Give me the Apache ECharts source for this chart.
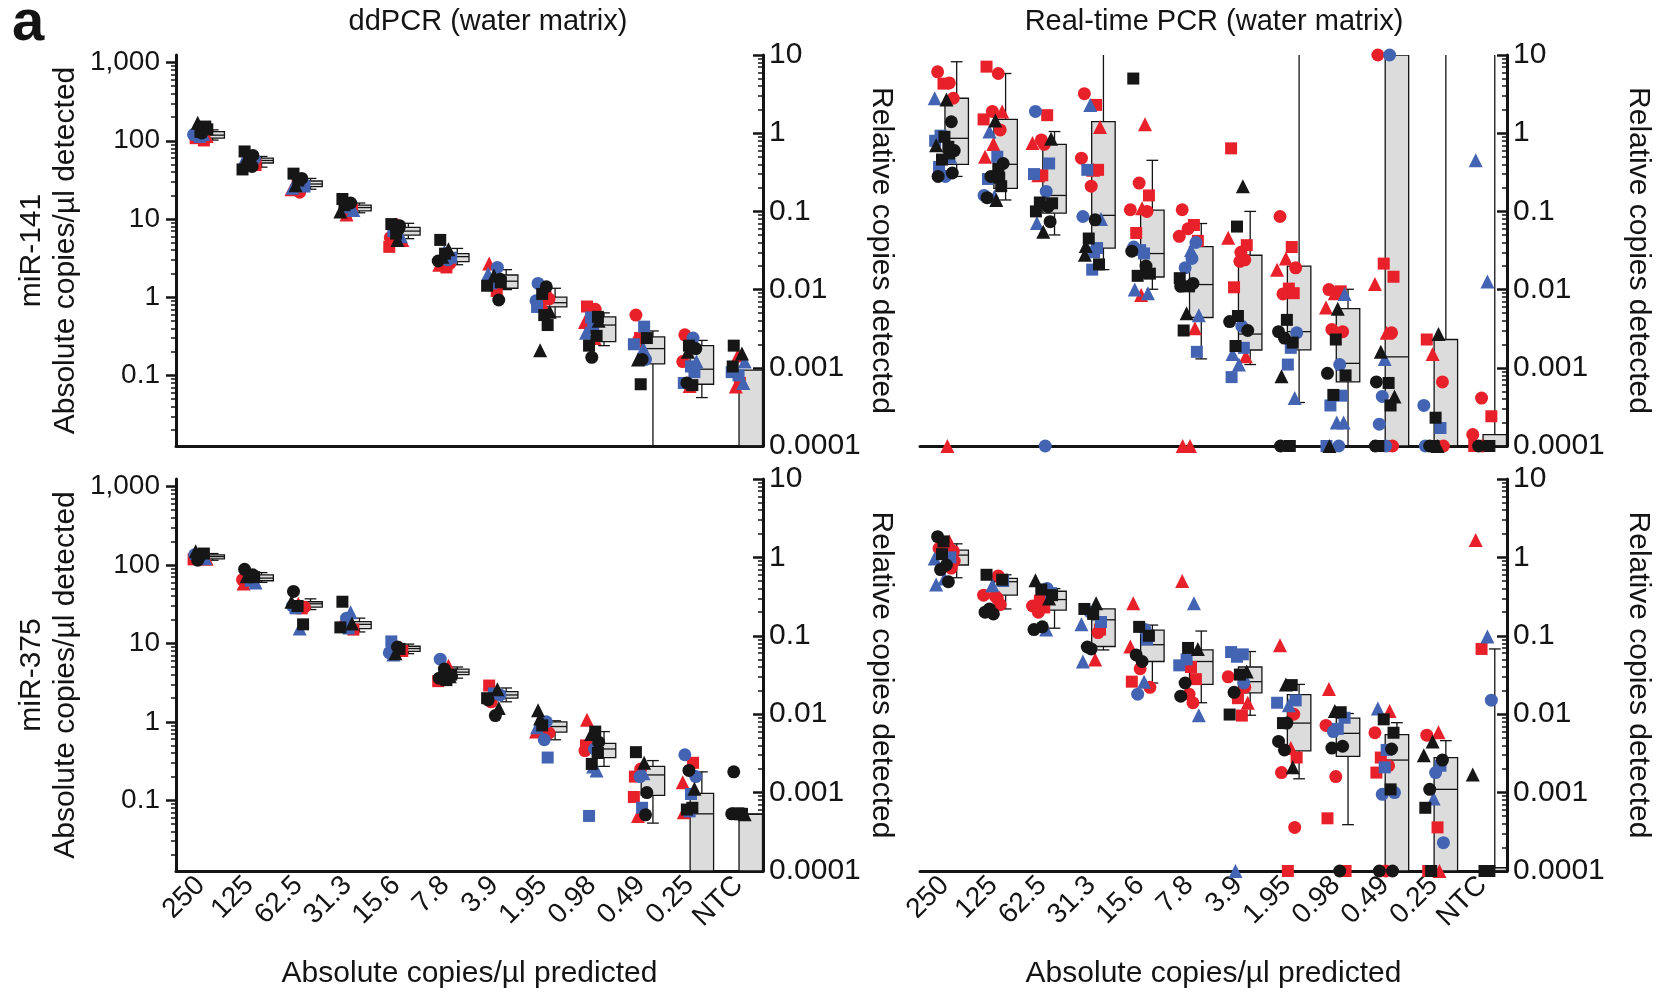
<!DOCTYPE html>
<html>
<head>
<meta charset="utf-8">
<title>ddPCR vs real-time PCR</title>
<script src="https://cdn.jsdelivr.net/npm/echarts@6/dist/echarts.min.js"></script>
<style>
  html, body { margin: 0; padding: 0; background: #fff; }
  #chart { width: 1657px; height: 997px; }
</style>
</head>
<body>
<div id="chart"></div>
<script>
// predicted input (copies/µl) per column
const categories = ['250', '125', '62.5', '31.3', '15.6', '7.8', '3.9', '1.95', '0.98', '0.49', '0.25', 'NTC'];

// not detected -> drawn on the floor of the axis
const ND = 0.0001;     // relative scale
const ND_ABS = 0.0125; // absolute scale

// points: [replicate group, value]; group = colour (r/b/k) + shape (c/s/t)
// ddPCR miR-141, absolute copies/µl
const dd141 = [
  [['rs', 108], ['rs', 101], ['bs', 112], ['rt', 115], ['bc', 120], ['kc', 126], ['ks', 152], ['kt', 170], ['ks', 130], ['rc', 118], ['bt', 122], ['ks', 140]],
  [['ks', 73], ['kc', 65], ['bs', 54], ['rs', 49], ['ks', 43], ['rc', 52], ['bc', 58], ['kt', 60], ['rt', 50], ['bt', 55], ['kc', 47]],
  [['ks', 38], ['kc', 33], ['rs', 28], ['bs', 26], ['rt', 24], ['rc', 22], ['bc', 29], ['kt', 27], ['ks', 31], ['bt', 25]],
  [['ks', 18], ['kc', 16], ['rt', 11.4], ['bt', 13], ['kt', 12.5], ['bs', 14], ['rs', 13], ['ks', 15], ['rc', 12]],
  [['ks', 8.6], ['kc', 8.2], ['rc', 8.5], ['rt', 5.4], ['rs', 4.4], ['kt', 5.4], ['bt', 6], ['bs', 7], ['ks', 6.5], ['rc', 5.8], ['kc', 7.5]],
  [['ks', 5.4], ['kt', 4.1], ['bt', 3.8], ['bs', 3.2], ['kc', 2.9], ['rs', 2.4], ['rc', 2.7], ['kt', 3.3], ['ks', 3.6], ['rt', 2.6], ['bc', 3.0]],
  [['rt', 2.7], ['bc', 2.4], ['rs', 1.65], ['kc', 1.7], ['ks', 1.4], ['rc', 1.35], ['kc', 0.92], ['bs', 1.5], ['kt', 1.9], ['bt', 2.0], ['rs', 1.2], ['ks', 1.55]],
  [['bc', 1.5], ['kc', 1.36], ['ks', 1.1], ['rc', 0.95], ['bc', 0.9], ['ks', 0.59], ['ks', 0.44], ['kt', 0.21], ['rt', 0.8], ['bs', 0.75], ['rs', 1.0], ['kt', 0.65]],
  [['rs', 0.76], ['rc', 0.7], ['bs', 0.55], ['ks', 0.56], ['rt', 0.48], ['bs', 0.4], ['ks', 0.32], ['ks', 0.24], ['kc', 0.17], ['bt', 0.35], ['rt', 0.3], ['kt', 0.5]],
  [['rc', 0.59], ['bs', 0.42], ['rs', 0.3], ['ks', 0.3], ['bs', 0.25], ['kc', 0.16], ['bc', 0.16], ['kt', 0.16], ['ks', 0.077], ['rt', 0.28], ['bt', 0.22]],
  [['rc', 0.33], ['bc', 0.3], ['ks', 0.24], ['kc', 0.22], ['rc', 0.15], ['bs', 0.13], ['bs', 0.11], ['kc', 0.08], ['rt', 0.073], ['bs', 0.08], ['ks', 0.075], ['bt', 0.15], ['kt', 0.2]],
  [['ks', 0.24], ['kt', 0.19], ['rt', 0.18], ['bt', 0.15], ['bs', 0.11], ['rs', 0.08], ['bt', 0.08], ['rt', 0.072], ['bs', 0.1], ['ks', 0.13]]
];
// boxes: [low whisker, q1, median, q3, high whisker]
const dd141Box = [
  [102, 108, 118, 131, 138], [46, 52, 56, 60, 63], [24, 26, 28, 30.6, 33], [12, 12.7, 14, 15, 16],
  [5.6, 6.2, 7.0, 7.8, 8.8], [2.6, 2.85, 3.3, 3.6, 4.2], [1.25, 1.3, 1.6, 1.92, 2.25], [0.56, 0.75, 0.85, 1.0, 1.3],
  [0.24, 0.27, 0.44, 0.56, 0.63], [ND_ABS, 0.14, 0.22, 0.31, 0.37], [0.052, 0.077, 0.12, 0.24, 0.28], [ND_ABS, ND_ABS, ND_ABS, 0.117, 0.117]
];

// real-time PCR miR-141, relative copies
const rt141 = [
  [['rc', 6.1], ['rc', 4.4], ['rs', 4.3], ['rc', 2.8], ['bt', 2.8], ['kt', 2.7], ['kc', 1.4], ['bs', 0.93], ['ks', 0.9], ['kt', 0.7], ['ks', 0.67], ['kc', 0.6], ['ks', 0.46], ['bt', 0.5], ['bs', 0.37], ['kc', 0.31], ['bc', 0.28], ['kc', 0.28], ['rt', ND], ['bs', 0.8], ['ks', 0.55]],
  [['rs', 7.1], ['rc', 5.8], ['rc', 1.9], ['rt', 1.9], ['rs', 1.5], ['kt', 1.45], ['rc', 1.1], ['bt', 1.05], ['rt', 0.73], ['rt', 0.5], ['bs', 0.5], ['kc', 0.41], ['kc', 0.28], ['ks', 0.27], ['bs', 0.26], ['ks', 0.21], ['bt', 0.155], ['kc', 0.15], ['kt', 0.14], ['bc', 0.16], ['ks', 0.35]],
  [['bc', 1.9], ['rs', 1.7], ['rc', 0.82], ['kt', 0.85], ['rt', 0.75], ['rc', 0.72], ['bs', 0.41], ['rt', 0.29], ['rs', 0.29], ['bs', 0.3], ['bc', 0.18], ['ks', 0.127], ['ks', 0.13], ['kc', 0.115], ['bt', 0.071], ['kc', 0.074], ['kt', 0.055], ['ks', 0.1], ['bc', ND]],
  [['rc', 3.2], ['rs', 2.3], ['bt', 2.3], ['rt', 1.2], ['rc', 0.48], ['rt', 0.34], ['rs', 0.34], ['bs', 0.34], ['rc', 0.21], ['bc', 0.086], ['kc', 0.078], ['bt', 0.08], ['ks', 0.045], ['bs', 0.034], ['kt', 0.036], ['ks', 0.021], ['bs', 0.018], ['kt', 0.028], ['bs', 0.03]],
  [['ks', 5.0], ['rt', 1.3], ['rc', 0.23], ['rs', 0.16], ['rc', 0.105], ['rt', 0.11], ['rc', 0.1], ['rs', 0.053], ['bs', 0.032], ['kc', 0.031], ['bs', 0.029], ['ks', 0.016], ['ks', 0.015], ['kc', 0.02], ['bt', 0.01], ['bt', 0.009], ['rt', 0.0085], ['bc', 0.035], ['kt', 0.017]],
  [['rc', 0.105], ['rs', 0.067], ['rc', 0.06], ['rs', 0.042], ['rc', 0.048], ['bt', 0.032], ['bc', 0.04], ['bc', 0.019], ['ks', 0.011], ['kc', 0.011], ['kc', 0.012], ['bt', 0.0047], ['kt', 0.005], ['rt', 0.0032], ['ks', 0.003], ['bs', 0.0016], ['rt', ND], ['rt', ND], ['bc', 0.025], ['ks', 0.014]],
  [['rs', 0.64], ['kt', 0.21], ['ks', 0.064], ['rs', 0.037], ['rt', 0.046], ['rc', 0.023], ['rc', 0.024], ['rs', 0.0107], ['ks', 0.0046], ['kc', 0.0039], ['bc', 0.0034], ['kc', 0.003], ['ks', 0.0019], ['bs', 0.0018], ['bt', 0.0015], ['rt', 0.0014], ['bt', 0.0011], ['bs', 0.00076], ['rc', 0.03]],
  [['rc', 0.086], ['rs', 0.035], ['rt', 0.025], ['rc', 0.019], ['rt', 0.018], ['rs', 0.0103], ['rs', 0.009], ['rc', 0.0088], ['ks', 0.0041], ['kc', 0.0029], ['bs', 0.0018], ['bc', 0.0028], ['kc', 0.0024], ['ks', 0.0021], ['kt', 0.00078], ['bt', 0.00041], ['bs', 0.0011], ['kc', ND], ['ks', ND]],
  [['rc', 0.01], ['rs', 0.0095], ['rt', 0.009], ['bt', 0.0088], ['rt', 0.0059], ['kt', 0.0057], ['rc', 0.0029], ['rc', 0.0031], ['ks', 0.0023], ['kc', 0.00085], ['bc', 0.0011], ['ks', 0.0008], ['ks', 0.00045], ['bs', 0.00044], ['bs', 0.00033], ['bt', 0.0002], ['bt', 0.0002], ['kt', ND], ['bc', ND], ['bs', ND]],
  [['rc', 10], ['bc', 10], ['rs', 0.0215], ['rs', 0.0146], ['rt', 0.0118], ['rt', 0.0028], ['rc', 0.0028], ['kt', 0.0016], ['bt', 0.0013], ['kc', 0.00066], ['ks', 0.00064], ['kt', 0.00043], ['bc', 0.00043], ['ks', 0.00033], ['bc', 0.00019], ['rc', ND], ['bc', ND], ['ks', ND], ['rs', ND], ['kc', ND]],
  [['rs', 0.0023], ['kt', 0.0027], ['rt', 0.0015], ['rc', 0.00066], ['bc', 0.00033], ['ks', 0.00023], ['bs', 0.00017], ['kc', ND], ['ks', ND], ['bc', ND], ['kt', ND], ['rc', ND]],
  [['bt', 0.45], ['bt', 0.0127], ['rc', 0.00041], ['rs', 0.00024], ['rc', 0.00014], ['rs', ND], ['ks', ND], ['kc', ND], ['rc', ND], ['rs', ND]]
];
// whisker values above the axis (1000) run off the top of the plot
const rt141Box = [
  [0.28, 0.40, 0.86, 2.8, 8.2], [0.14, 0.197, 0.40, 1.5, 5.8], [0.05, 0.095, 0.16, 0.72, 1.05], [0.018, 0.034, 0.089, 1.41, 1000],
  [0.0101, 0.0145, 0.0289, 0.104, 0.45], [0.0013, 0.0044, 0.0116, 0.0355, 0.07], [0.0011, 0.00169, 0.0027, 0.0275, 0.1], [0.00036, 0.0017, 0.0029, 0.02, 1000],
  [ND, 0.00066, 0.00114, 0.0057, 0.0101], [ND, ND, 0.00138, 10, 10], [ND, ND, ND, 0.0023, 1000], [ND, ND, ND, 0.00014, 1000]
];

// ddPCR miR-375, absolute copies/µl
const dd375 = [
  [['kt', 150], ['ks', 140], ['kc', 130], ['rt', 120], ['rs', 118], ['bs', 125], ['bt', 122], ['kc', 115], ['rc', 128], ['bc', 135]],
  [['kc', 88], ['kc', 75], ['rs', 62], ['bt', 60], ['rc', 65], ['bs', 63], ['ks', 70], ['kt', 72], ['bc', 68], ['rt', 58]],
  [['kc', 46], ['rs', 28], ['ks', 30], ['rc', 29], ['kt', 34], ['bt', 15.5], ['ks', 17.5], ['bs', 28], ['rt', 32], ['bc', 30]],
  [['ks', 34], ['bt', 25], ['bc', 21], ['rs', 15], ['ks', 16], ['bs', 15.5], ['kt', 18], ['rc', 17], ['bt', 19]],
  [['bs', 10.6], ['ks', 8.5], ['kt', 7.5], ['rs', 8], ['bc', 7.6], ['kc', 9], ['rt', 8.8], ['bt', 7.2]],
  [['bc', 6.3], ['rt', 5.2], ['kc', 4.7], ['ks', 4], ['rs', 3.3], ['ks', 3.4], ['kt', 3.8], ['bt', 4.5], ['rc', 4.2], ['kc', 3.6]],
  [['rs', 2.9], ['kt', 2.6], ['rt', 2.4], ['bc', 2.2], ['ks', 2.0], ['kc', 1.2], ['kt', 1.5], ['rc', 1.8], ['bs', 2.3], ['kc', 1.9]],
  [['kt', 1.4], ['bc', 1.0], ['ks', 0.9], ['rc', 0.72], ['rt', 0.75], ['bc', 0.59], ['bs', 0.35], ['kt', 1.1], ['rs', 0.95], ['bt', 0.85]],
  [['rt', 1.06], ['ks', 0.75], ['kt', 0.7], ['ks', 0.4], ['rc', 0.43], ['bt', 0.27], ['bt', 0.24], ['bs', 0.063], ['ks', 0.29], ['rs', 0.5], ['bc', 0.45], ['kc', 0.55]],
  [['ks', 0.41], ['kt', 0.3], ['bc', 0.2], ['kc', 0.125], ['rs', 0.11], ['bs', 0.08], ['kc', 0.065], ['rt', 0.063], ['rc', 0.25], ['rs', 0.2], ['bt', 0.22]],
  [['bc', 0.38], ['rs', 0.3], ['kc', 0.24], ['bc', 0.2], ['rt', 0.17], ['bs', 0.12], ['kt', 0.14], ['ks', 0.076], ['bs', 0.072], ['rt', 0.07], ['ks', 0.08]],
  [['kc', 0.23], ['ks', 0.067], ['ks', 0.068], ['kt', 0.066], ['kc', 0.067], ['ks', 0.066]]
];
const dd375Box = [
  [115, 120, 128, 135, 140], [60, 63, 68, 75, 80], [27, 29, 32, 34, 37], [14, 15.4, 17.5, 19, 21],
  [7.4, 7.9, 8.6, 9.2, 9.8], [3.6, 4.0, 4.3, 4.7, 5.0], [1.8, 2.0, 2.2, 2.42, 2.7], [0.59, 0.74, 0.87, 1.0, 1.03],
  [0.27, 0.35, 0.45, 0.53, 0.75], [0.051, 0.115, 0.21, 0.27, 0.32], [ND_ABS, ND_ABS, 0.067, 0.122, 0.23], [ND_ABS, ND_ABS, 0.066, 0.067, 0.067]
];

// real-time PCR miR-375, relative copies
const rt375 = [
  [['kc', 1.84], ['rt', 1.6], ['ks', 1.6], ['rc', 1.2], ['bt', 0.97], ['kc', 0.8], ['rc', 0.73], ['kc', 0.7], ['bt', 0.54], ['bt', 0.45], ['kc', 0.49], ['rc', 0.9], ['ks', 1.1], ['bs', 1.0], ['rc', 1.3]],
  [['ks', 0.6], ['rc', 0.58], ['bt', 0.44], ['ks', 0.52], ['rc', 0.33], ['rc', 0.32], ['rc', 0.25], ['kc', 0.22], ['kc', 0.19], ['kc', 0.2], ['rc', 0.3], ['bs', 0.5]],
  [['kt', 0.51], ['bc', 0.4], ['ks', 0.39], ['bs', 0.35], ['rc', 0.24], ['rs', 0.23], ['kt', 0.3], ['rc', 0.2], ['kc', 0.13], ['kc', 0.12], ['bt', 0.12], ['ks', 0.33], ['rs', 0.28]],
  [['ks', 0.22], ['kt', 0.26], ['bc', 0.2], ['rs', 0.12], ['bt', 0.14], ['ks', 0.19], ['rc', 0.11], ['kc', 0.072], ['kc', 0.068], ['bt', 0.047], ['rt', 0.05], ['bs', 0.15]],
  [['rt', 0.26], ['bc', 0.12], ['ks', 0.13], ['ks', 0.1], ['rt', 0.073], ['kc', 0.047], ['bs', 0.09], ['kc', 0.057], ['rc', 0.038], ['rs', 0.026], ['bt', 0.026], ['rc', 0.022], ['bc', 0.018]],
  [['rt', 0.5], ['bt', 0.26], ['ks', 0.07], ['kt', 0.068], ['bs', 0.042], ['rs', 0.04], ['rs', 0.028], ['kc', 0.025], ['rc', 0.018], ['kc', 0.017], ['rc', 0.014], ['bt', 0.0097], ['bs', 0.05]],
  [['bs', 0.062], ['bs', 0.058], ['bs', 0.054], ['kt', 0.035], ['rc', 0.03], ['ks', 0.032], ['rc', 0.022], ['kc', 0.019], ['rs', 0.016], ['ks', 0.0099], ['rs', 0.0096], ['rt', 0.014], ['bt', ND], ['bc', 0.025]],
  [['rt', 0.076], ['ks', 0.0235], ['kt', 0.024], ['bs', 0.015], ['bs', 0.014], ['bt', 0.013], ['rc', 0.01], ['ks', 0.0077], ['kc', 0.0077], ['kc', 0.0045], ['rt', 0.0037], ['rs', 0.0028], ['kc', 0.0035], ['kt', 0.0021], ['rc', 0.0018], ['rc', 0.00036], ['rs', ND]],
  [['rt', 0.021], ['ks', 0.0106], ['kt', 0.011], ['bs', 0.009], ['rc', 0.0072], ['bs', 0.0065], ['kc', 0.0039], ['kc', 0.0037], ['rc', 0.0016], ['rs', 0.00047], ['kc', ND], ['rs', ND], ['bc', 0.006]],
  [['bt', 0.0118], ['rt', 0.011], ['ks', 0.0086], ['ks', 0.0058], ['rc', 0.0058], ['bs', 0.0035], ['kc', 0.0036], ['rs', 0.0028], ['bs', 0.0021], ['rs', 0.0018], ['rc', 0.0022], ['bc', 0.001], ['bc', 0.00095], ['ks', 0.0011], ['kc', ND], ['kc', ND], ['rc', ND]],
  [['rc', 0.0054], ['rt', 0.0059], ['kt', 0.0045], ['kc', 0.0026], ['kt', 0.003], ['bc', 0.0018], ['bs', 0.0022], ['kc', 0.0011], ['bt', 0.00084], ['ks', 0.00064], ['rs', 0.00036], ['bc', 0.00023], ['ks', ND], ['rt', ND], ['rs', ND]],
  [['rt', 1.67], ['bt', 0.098], ['rs', 0.068], ['bc', 0.0151], ['kt', 0.0017], ['ks', ND], ['ks', ND]]
];
const rt375Box = [
  [0.55, 0.8, 1.07, 1.24, 1.49], [0.22, 0.33, 0.49, 0.54, 0.6], [0.125, 0.213, 0.29, 0.37, 0.4], [0.066, 0.073, 0.16, 0.22, 0.22],
  [0.025, 0.047, 0.077, 0.118, 0.137], [0.014, 0.024, 0.047, 0.066, 0.115], [0.0097, 0.0187, 0.026, 0.04, 0.063], [0.0015, 0.0034, 0.0077, 0.0178, 0.024],
  [0.00039, 0.0029, 0.0057, 0.0089, 0.0102], [ND, ND, 0.0026, 0.0055, 0.0078], [ND, ND, 0.0011, 0.0028, 0.0046], [ND, ND, ND, 0.00011, 0.068]
];

// axis tick labels
const absTicks = [0.1, 1, 10, 100, 1000];
const relTicks = [0.0001, 0.001, 0.01, 0.1, 1, 10];

const FONT = 'Liberation Sans, Arial, sans-serif';
const INK = '#141414';
const COLOR = { r: '#e8202a', b: '#4364b3', k: '#161616' };
const SHAPE = { c: 'circle', s: 'rect', t: 'triangle' };
const SIZE = { c: 13, s: 12, t: 14 };
// horizontal scatter of the replicates inside a column (fraction of a column)
const JIT = [-0.14, 0.1, -0.02, 0.18, -0.2, 0.04, 0.14, -0.08, 0.0, -0.17, 0.08, 0.2, -0.05, 0.12, -0.11, 0.16, 0.02, -0.13, 0.06, -0.19, 0.1];
const BOX_SHIFT = 0.25, BOX_W = 0.48, CAP_W = 0.24;

// minor ticks 2..9 in every decade
function minorTicks(min, max) {
  const out = [];
  for (let d = Math.floor(Math.log10(min)); d <= Math.ceil(Math.log10(max)); d++) {
    for (let k = 2; k <= 9; k++) {
      const v = Number((k * Math.pow(10, d)).toPrecision(6));
      if (v > min && v < max) out.push(v);
    }
  }
  return out;
}

function fmt(v) {
  return v >= 1000 ? v.toLocaleString('en-US') : String(v);
}

function majorAxis(grid, side, min, max, ticks, name, nameGap) {
  const left = side === 'left';
  return {
    type: 'log', logBase: 10, gridIndex: grid, position: side, min: min, max: max,
    axisLine: { show: true, onZero: false, lineStyle: { color: INK, width: 3 } },
    axisTick: { show: true, inside: !left, length: 10, customValues: ticks, lineStyle: { color: INK, width: 2.5 } },
    axisLabel: { customValues: ticks, formatter: fmt, color: INK, fontSize: left ? 28 : 30, fontFamily: FONT, margin: left ? 16 : 6 },
    splitLine: { show: false },
    name: name, nameLocation: 'middle', nameGap: nameGap, nameRotate: left ? 90 : -90,
    nameTextStyle: { color: INK, fontSize: 30, fontFamily: FONT, lineHeight: 34, align: 'center' }
  };
}

function minorAxis(grid, side, min, max) {
  return {
    type: 'log', logBase: 10, gridIndex: grid, position: side, min: min, max: max,
    axisLine: { show: false, onZero: false },
    axisTick: { show: true, inside: side === 'right', length: 5, customValues: minorTicks(min, max), lineStyle: { color: INK, width: 1.5 } },
    axisLabel: { show: false },
    splitLine: { show: false }
  };
}

const grids = [
  { left: 176, top: 55, width: 587, height: 391 },
  { left: 920, top: 55, width: 587, height: 391 },
  { left: 176, top: 479, width: 587, height: 392 },
  { left: 920, top: 479, width: 587, height: 392 }
];

const xAxes = [];
grids.forEach((g, i) => {
  const bottomRow = i >= 2;
  xAxes.push({
    type: 'category', gridIndex: i, data: categories, position: 'bottom',
    axisLine: { onZero: false, lineStyle: { color: INK, width: 3 } },
    axisTick: { alignWithLabel: true, interval: 0, length: 10, lineStyle: { color: INK, width: 2.5 } },
    axisLabel: { show: bottomRow, interval: 0, rotate: 45, color: INK, fontSize: 28, fontFamily: FONT, margin: 10 },
    splitLine: { show: false },
    name: bottomRow ? 'Absolute copies/µl predicted' : '', nameLocation: 'middle', nameGap: 86,
    nameTextStyle: { color: INK, fontSize: 30, fontFamily: FONT, lineHeight: 34 }
  });
  xAxes.push({ type: 'value', gridIndex: i, min: -0.5, max: 11.5, show: false, axisLine: { onZero: false } });
});

const yAxes = [
  // top-left: 0 abs, 1 abs minor, 2 rel, 3 rel minor
  majorAxis(0, 'left', ND_ABS, 1250, absTicks, 'miR-141\nAbsolute copies/µl detected', 93),
  minorAxis(0, 'left', ND_ABS, 1250),
  majorAxis(0, 'right', ND, 10, relTicks, 'Relative copies detected', 97),
  minorAxis(0, 'right', ND, 10),
  // top-right: 4 rel, 5 rel minor
  majorAxis(1, 'right', ND, 10, relTicks, 'Relative copies detected', 114),
  minorAxis(1, 'right', ND, 10),
  // bottom-left: 6, 7, 8, 9
  majorAxis(2, 'left', ND_ABS, 1250, absTicks, 'miR-375\nAbsolute copies/µl detected', 93),
  minorAxis(2, 'left', ND_ABS, 1250),
  majorAxis(2, 'right', ND, 10, relTicks, 'Relative copies detected', 97),
  minorAxis(2, 'right', ND, 10),
  // bottom-right: 10, 11
  majorAxis(3, 'right', ND, 10, relTicks, 'Relative copies detected', 114),
  minorAxis(3, 'right', ND, 10)
];

function renderBox(params, api) {
  const xc = api.value(0) + BOX_SHIFT;
  const lo = api.value(1), q1 = api.value(2), md = api.value(3), q3 = api.value(4), hi = api.value(5);
  const xl = api.coord([xc - BOX_W / 2, q1])[0];
  const xr = api.coord([xc + BOX_W / 2, q1])[0];
  const xm = api.coord([xc, q1])[0];
  const cl = api.coord([xc - CAP_W / 2, q1])[0];
  const cr = api.coord([xc + CAP_W / 2, q1])[0];
  const y = v => api.coord([xc, v])[1];
  const yq1 = y(q1), yq3 = y(q3), ymd = y(md), ylo = y(lo), yhi = y(hi);
  const st = { stroke: INK, lineWidth: 1.3, fill: null };
  const kids = [];
  if (yhi < yq3 - 0.5) {
    kids.push({ type: 'line', shape: { x1: xm, y1: yq3, x2: xm, y2: yhi }, style: st });
    kids.push({ type: 'line', shape: { x1: cl, y1: yhi, x2: cr, y2: yhi }, style: st });
  }
  if (ylo > yq1 + 0.5) {
    kids.push({ type: 'line', shape: { x1: xm, y1: yq1, x2: xm, y2: ylo }, style: st });
    kids.push({ type: 'line', shape: { x1: cl, y1: ylo, x2: cr, y2: ylo }, style: st });
  }
  kids.push({ type: 'rect', shape: { x: xl, y: yq3, width: xr - xl, height: yq1 - yq3 },
    style: { fill: '#dcdcdc', stroke: INK, lineWidth: 1.3 } });
  kids.push({ type: 'line', shape: { x1: xl, y1: ymd, x2: xr, y2: ymd }, style: st });
  return { type: 'group', children: kids };
}

function boxSeries(boxes, xIdx, yIdx) {
  return {
    type: 'custom', xAxisIndex: xIdx, yAxisIndex: yIdx, clip: true, silent: true, z: 2,
    renderItem: renderBox,
    encode: { x: 0, y: [1, 2, 3, 4, 5] },
    data: boxes.map((b, i) => [i].concat(b))
  };
}

function pointSeries(points, xIdx, yIdx, spread) {
  const byGroup = {};
  points.forEach((col, ci) => col.forEach((p, i) => {
    (byGroup[p[0]] = byGroup[p[0]] || []).push([ci + JIT[i % JIT.length] * spread, p[1]]);
  }));
  const order = ['rc', 'rs', 'rt', 'bc', 'bs', 'bt', 'kc', 'ks', 'kt'];
  return order.filter(g => byGroup[g]).map(g => ({
    type: 'scatter', xAxisIndex: xIdx, yAxisIndex: yIdx, silent: true, z: 3,
    symbol: SHAPE[g[1]], symbolSize: SIZE[g[1]],
    itemStyle: { color: COLOR[g[0]], opacity: 1 },
    data: byGroup[g]
  }));
}

const series = [].concat(
  boxSeries(dd141Box, 1, 0), pointSeries(dd141, 1, 0, 0.7),
  boxSeries(rt141Box, 3, 4), pointSeries(rt141, 3, 4, 1),
  boxSeries(dd375Box, 5, 6), pointSeries(dd375, 5, 6, 0.7),
  boxSeries(rt375Box, 7, 10), pointSeries(rt375, 7, 10, 1)
);

const chart = echarts.init(document.getElementById('chart'));
chart.setOption({
  animation: false,
  backgroundColor: '#fff',
  grid: grids,
  xAxis: xAxes,
  yAxis: yAxes,
  graphic: [
    { type: 'text', x: 12, y: 24, style: { text: 'a', fill: INK, fontSize: 58, fontWeight: 'bold', fontFamily: FONT, verticalAlign: 'middle' } },
    { type: 'text', x: 488, y: 22, style: { text: 'ddPCR (water matrix)', fill: INK, fontSize: 29, fontFamily: FONT, align: 'center', verticalAlign: 'middle' } },
    { type: 'text', x: 1214, y: 22, style: { text: 'Real-time PCR (water matrix)', fill: INK, fontSize: 29, fontFamily: FONT, align: 'center', verticalAlign: 'middle' } }
  ],
  series: series
});
</script>
</body>
</html>
